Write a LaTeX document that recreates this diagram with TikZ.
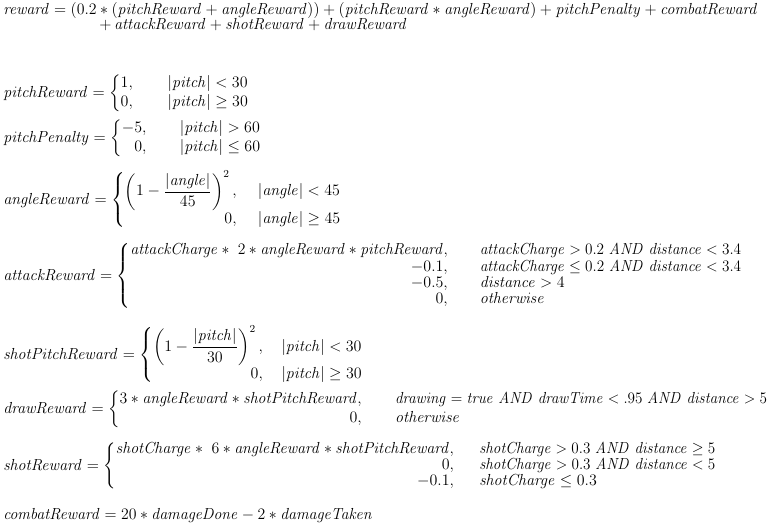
\documentclass[tikz,border=0pt]{standalone}
\usepackage{amsmath,amssymb,graphicx}
\usetikzlibrary{positioning}
\newcommand{\w}[1]{\mathit{#1}}
\newcommand{\fitw}[2]{\resizebox{#1}{\height}{$#2$}}

\begin{document}
\begin{tikzpicture}[x=0.75pt, y=-0.75pt]

    % Define styles for the equations
    \tikzstyle{eqline} = [anchor=base west, inner sep=0pt, font=\fontsize{11.5}{14}\selectfont]
    \tikzstyle{eqcases} = [anchor=west, inner sep=0pt, font=\fontsize{11.5}{14}\selectfont]

    \useasboundingbox (0,0) rectangle (784,529);

    \node (reward) [eqline] at (3,14) {\fitw{566pt}{\w{reward} = (0.2\ast(\w{pitchReward}+\w{angleReward}))+(\w{pitchReward}\ast\w{angleReward})+\w{pitchPenalty}+\w{combatReward}}};
    \node (reward_cont) [eqline] at (99,29.5) {\fitw{231pt}{+\,\w{attackReward}+\w{shotReward}+\w{drawReward}}};

    \node (pitch_reward) [eqcases] at (3,93) {$\w{pitchReward} = \left\{\begin{array}{@{}l@{\hspace{26pt}}l@{}}
        1, & |\w{pitch}| < 30\\
        0, & |\w{pitch}| \geq 30
    \end{array}\right.$};

    \node (pitch_penalty) [eqcases] at (3,138) {$\w{pitchPenalty} = \left\{\begin{array}{@{}r@{\hspace{25pt}}l@{}}
        -5, & |\w{pitch}| > 60\\
        0, & |\w{pitch}| \leq 60
    \end{array}\right.$};

    \node (angle_reward) [eqcases] at (3,200) {$\w{angleReward} = \left\{\begin{array}{@{}r@{\hspace{16pt}}l@{}}
        \left(1-\dfrac{|\w{angle}|}{45}\right)^{2}, & |\w{angle}| < 45\\[7pt]
        0, & |\w{angle}| \geq 45
    \end{array}\right.$};

    \node (attack_reward) [eqcases] at (3,276) {\def\arraystretch{0.87}$\w{attackReward} = \left\{\begin{array}{@{}r@{\hspace{24pt}}l@{}}
        \fitw{238pt}{\w{attackCharge}\ast\ 2\ast\w{angleReward}\ast\w{pitchReward},} & \fitw{196pt}{\w{attackCharge} > 0.2\ \w{AND}\ \w{distance} < 3.4}\\
        -0.1, & \fitw{196pt}{\w{attackCharge} \leq 0.2\ \w{AND}\ \w{distance} < 3.4}\\
        -0.5, & \w{distance} > 4\\
        0, & \w{otherwise}
    \end{array}\right.$};

    \node (shot_pitch_reward) [eqcases] at (3,355) {$\w{shotPitchReward} = \left\{\begin{array}{@{}r@{\hspace{14pt}}l@{}}
        \left(1-\dfrac{|\w{pitch}|}{30}\right)^{2}, & |\w{pitch}| < 30\\[5pt]
        0, & |\w{pitch}| \geq 30
    \end{array}\right.$};

    \node (draw_reward) [eqcases] at (3,409) {$\w{drawReward} = \left\{\begin{array}{@{}r@{\hspace{25pt}}l@{}}
        \fitw{181.5pt}{3\ast\w{angleReward}\ast\w{shotPitchReward},} & \fitw{279pt}{\w{drawing} = \w{true}\ \w{AND}\ \w{drawTime} < .95\ \w{AND}\ \w{distance} > 5}\\
        0, & \w{otherwise}
    \end{array}\right.$};

    \node (shot_reward) [eqcases] at (3,466) {\def\arraystretch{0.87}$\w{shotReward} = \left\{\begin{array}{@{}r@{\hspace{19pt}}l@{}}
        \fitw{253.5pt}{\w{shotCharge}\ast\ 6\ast\w{angleReward}\ast\w{shotPitchReward},} & \fitw{177pt}{\w{shotCharge} > 0.3\ \w{AND}\ \w{distance} \geq 5}\\
        0, & \fitw{177pt}{\w{shotCharge} > 0.3\ \w{AND}\ \w{distance} < 5}\\
        -0.1, & \w{shotCharge} \leq 0.3
    \end{array}\right.$};

    \node (combat_reward) [eqline] at (3,519) {\fitw{277pt}{\w{combatReward} = 20\ast\w{damageDone}-2\ast\w{damageTaken}}};

\end{tikzpicture}
\end{document}
